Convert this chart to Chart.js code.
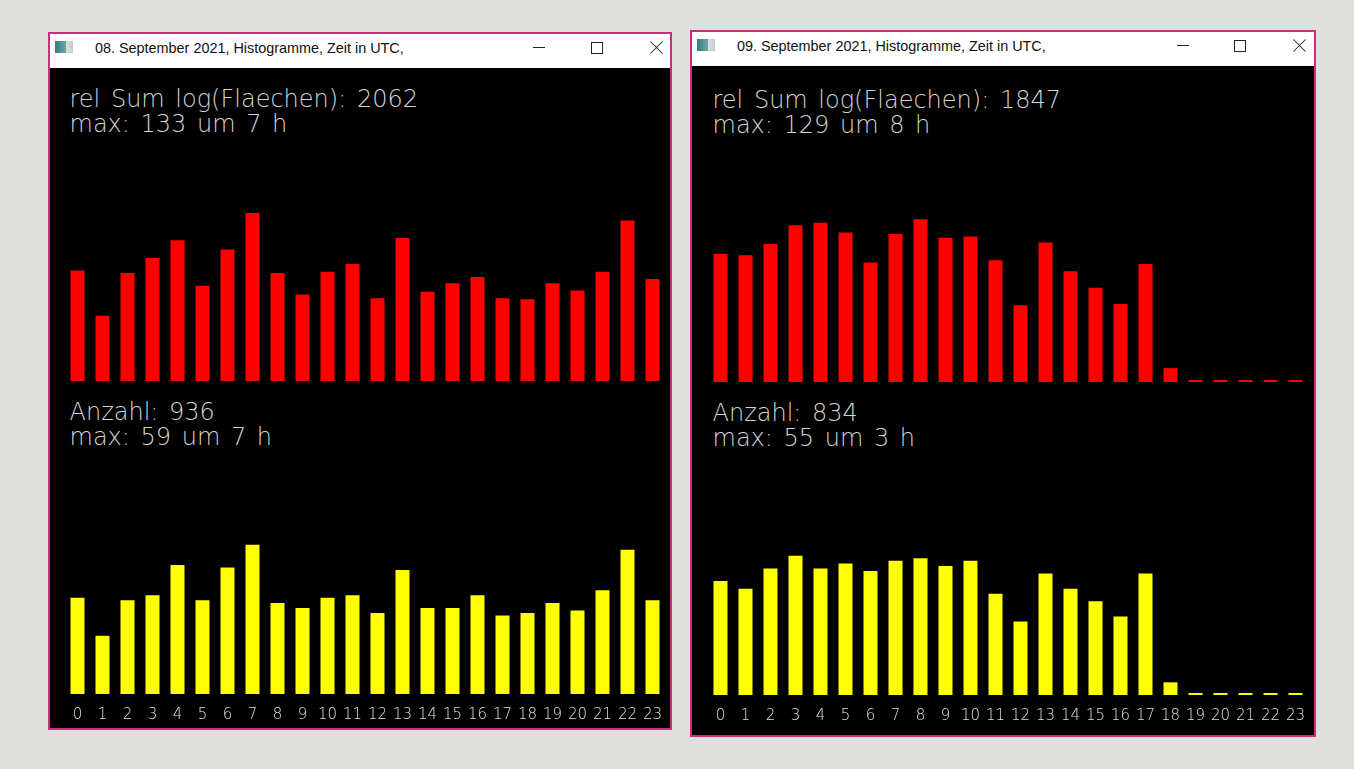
<!DOCTYPE html>
<html>
<head>
<meta charset="utf-8">
<script src="https://cdn.jsdelivr.net/npm/chart.js@4.4.0/dist/chart.umd.min.js"></script>
<style>
  body { margin: 0; width: 1354px; height: 769px; overflow: hidden; background: #dfdfde; position: relative; font-family: "Noto Sans", sans-serif; }
  .win { position: absolute; box-sizing: border-box; border: 2px solid #c8307f; background: #000; }
  .bar { position: absolute; left: 0; right: 0; top: 0; height: 34px; background: #fff; }
  .icon { position: absolute; left: 5px; top: 7px; width: 18px; height: 12px; background: linear-gradient(90deg, #2f7f78 0%, #6fa3a8 60%, #d8dfe0 61%, #c4ccd0 100%); }
  .caption { position: absolute; left: 45px; top: 6px; font-size: 14.4px; color: #111; font-family: "Liberation Sans", "Noto Sans", sans-serif; }
  .min { position: absolute; top: 13px; width: 12px; height: 1px; background: #222; }
  .max { position: absolute; top: 8px; width: 10px; height: 10px; border: 1px solid #222; }
  .close { position: absolute; top: 7px; width: 13px; height: 13px; }
  .close:before, .close:after { content: ""; position: absolute; left: -2px; top: 6px; width: 17px; height: 1px; background: #222; }
  .close:before { transform: rotate(45deg); }
  .close:after { transform: rotate(-45deg); }
  .txt { position: absolute; color: #d4d4d4; font-family: "DejaVu Sans", sans-serif; font-weight: 200; font-size: 24px; line-height: 25px; word-spacing: 3px; white-space: pre; }
  canvas { position: absolute; }
</style>
</head>
<body>
<script>
// Stunden 0..23
var hours = ['0','1','2','3','4','5','6','7','8','9','10','11','12','13','14','15','16','17','18','19','20','21','22','23'];

// 08.09.2021
var flaechen08 = [87.5, 51.6, 85.5, 97.4, 111.4, 75.4, 104.2, 133, 85.5, 68.5, 86.5, 92.6, 65.6, 113.2, 70.6, 77.5, 82.3, 65.6, 64.8, 77.5, 71.7, 86.5, 127.2, 80.7];
var anzahl08 = [38, 23, 37, 39, 51, 37, 50, 59, 36, 34, 38, 39, 32, 49, 34, 34, 39, 31, 32, 36, 33, 41, 57, 37];

// 09.09.2021
var flaechen09 = [101.5, 100.4, 109.4, 124.2, 126.1, 118.4, 94.6, 117.3, 129, 114.2, 115.2, 96.4, 60.7, 110.4, 87.7, 74.7, 61.8, 93.5, 11.0, 0, 0, 0, 0, 0];
var anzahl09 = [45, 42, 50, 55, 50, 52, 49, 53, 54, 51, 53, 40, 29, 48, 42, 37, 31, 48, 5, 0, 0, 0, 0, 0];

var titles = ['08. September 2021, Histogramme, Zeit in UTC,', '09. September 2021, Histogramme, Zeit in UTC,'];
var texteFlaechen = ['rel Sum log(Flaechen): 2062\nmax: 133 um 7 h', 'rel Sum log(Flaechen): 1847\nmax: 129 um 8 h'];
var texteAnzahl = ['Anzahl: 936\nmax: 59 um 7 h', 'Anzahl: 834\nmax: 55 um 3 h'];

// Fenster-Layout (Seitenkoordinaten)
var windows = [
  { x: 48, y: 32, w: 624, h: 698, areaX: 64.5, redBase: 381, yellowBase: 693.5, ctl: [483, 541, 600] },
  { x: 690, y: 30, w: 626, h: 707, areaX: 707.5, redBase: 382, yellowBase: 694.5, ctl: [485, 542, 601] }
];

var RED_MAX = 160, RED_PX = 1.263;
var YEL_MAX = 64, YEL_PX = 2.525;
var AXIS_H = 34;

function el(tag, cls, parent, style, text) {
  var e = document.createElement(tag);
  if (cls) e.className = cls;
  Object.assign(e.style, style || {});
  if (text) e.textContent = text;
  parent.appendChild(e);
  return e;
}

function makeChart(left, top, height, values, color, showAxis) {
  var c = el('canvas', null, document.body, { left: left + 'px', top: top + 'px' });
  c.width = 600;
  c.height = Math.round(height);
  var xScale = {
    display: showAxis,
    grid: { display: false, drawTicks: false },
    border: { display: false },
    ticks: { color: '#e0e0e0', autoSkip: false, maxRotation: 0, padding: 12,
             font: { family: 'DejaVu Sans', size: 15, weight: 200 } }
  };
  // Achse nur fuer die gelben Balken, ohne seitliches Padding
  if (showAxis) xScale.afterFit = function(s) { s.height = AXIS_H; s.paddingLeft = 0; s.paddingRight = 0; };
  return new Chart(c.getContext('2d'), {
    type: 'bar',
    data: {
      labels: hours,
      datasets: [{
        data: values,
        backgroundColor: color,
        barPercentage: 0.56,
        categoryPercentage: 1,
        minBarLength: 2
      }]
    },
    options: {
      responsive: false,
      animation: false,
      layout: { padding: 0 },
      plugins: { legend: { display: false }, tooltip: { enabled: false } },
      scales: {
        x: xScale,
        y: { display: false, min: 0, max: showAxis ? YEL_MAX : RED_MAX }
      }
    }
  });
}

windows.forEach(function(w, i) {
  var win = el('div', 'win', document.body, { left: w.x + 'px', top: w.y + 'px', width: w.w + 'px', height: w.h + 'px' });
  var bar = el('div', 'bar', win);
  el('div', 'icon', bar);
  el('div', 'caption', bar, {}, titles[i]);
  el('div', 'min', bar, { left: w.ctl[0] + 'px' });
  el('div', 'max', bar, { left: w.ctl[1] + 'px' });
  el('div', 'close', bar, { left: w.ctl[2] + 'px' });

  el('div', 'txt', document.body, { left: (w.areaX + 5) + 'px', top: (w.redBase - 294) + 'px' }, texteFlaechen[i]);
  el('div', 'txt', document.body, { left: (w.areaX + 5) + 'px', top: (w.yellowBase - 294) + 'px' }, texteAnzahl[i]);

  var redH = Math.round(RED_MAX * RED_PX);
  makeChart(w.areaX, w.redBase - redH, redH, i === 0 ? flaechen08 : flaechen09, '#ff0000', false);
  var yelH = Math.round(YEL_MAX * YEL_PX);
  makeChart(w.areaX, w.yellowBase - yelH, yelH + AXIS_H, i === 0 ? anzahl08 : anzahl09, '#ffff00', true);
});
</script>
</body>
</html>
